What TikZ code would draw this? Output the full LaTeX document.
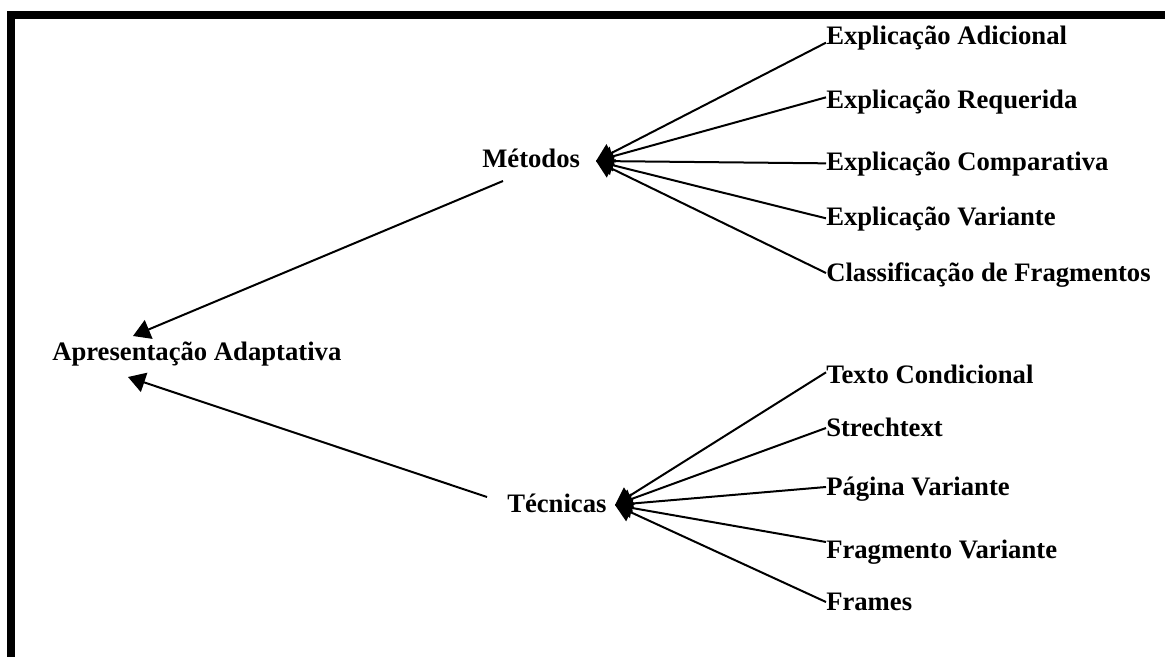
\documentclass[tikz,border=0pt]{standalone}
\usepackage{fontspec}
\setmainfont{Liberation Serif}
\usetikzlibrary{arrows.meta}
\begin{document}
\begin{tikzpicture}[x=0.75pt,y=-0.75pt,
  lbl/.style={inner sep=0pt,anchor=base west,font=\fontsize{20}{24}\selectfont\bfseries},
  conn/.style={line width=1.5pt,-{Triangle[length=12.75pt,width=15pt]}}]
\useasboundingbox (0,0) rectangle (1165,657);
% frame bars on the top and left edges
\fill (7,11) rectangle (1165,19);
\fill (7,11) rectangle (15,657);

% main nodes
\node[lbl] (apres) at (52,360) {Apresentação Adaptativa};
\node[lbl] (metodos) at (482,167) {Métodos};
\node[lbl] (tecnicas) at (507,512) {Técnicas};

% arrow hubs where the leaf lines converge
\coordinate (mhub) at (596,161);
\coordinate (thub) at (615,505);

% methods
\node[lbl] (m1) at (826,44) {Explicação Adicional};
\node[lbl] (m2) at (826,108) {Explicação Requerida};
\node[lbl] (m3) at (826,170) {Explicação Comparativa};
\node[lbl] (m4) at (826,225) {Explicação Variante};
\node[lbl] (m5) at (826,281) {Classificação de Fragmentos};

% techniques
\node[lbl] (t1) at (826,383) {Texto Condicional};
\node[lbl] (t2) at (826,436) {Strechtext};
\node[lbl] (t3) at (826,495) {Página Variante};
\node[lbl] (t4) at (826,558) {Fragmento Variante};
\node[lbl] (t5) at (826,610) {Frames};

% leaves to hubs
\draw[conn] ([yshift=1pt]m1.base west) -- (mhub);
\draw[conn] ([yshift=8pt]m2.base west) -- (mhub);
\draw[conn] ([yshift=5pt]m3.base west) -- (mhub);
\draw[conn] ([yshift=5pt]m4.base west) -- (mhub);
\draw[conn] ([yshift=6pt]m5.base west) -- (mhub);

\draw[conn] ([yshift=8pt]t1.base west) -- (thub);
\draw[conn] ([yshift=6pt]t2.base west) -- (thub);
\draw[conn] ([yshift=6pt]t3.base west) -- (thub);
\draw[conn] ([yshift=12pt]t4.base west) -- (thub);
\draw[conn] ([yshift=6pt]t5.base west) -- (thub);

% branches to the root
\draw[conn] ([xshift=15.75pt,yshift=-10.5pt]metodos.base west) -- ([xshift=60.75pt,yshift=18pt]apres.base west);
\draw[conn] ([xshift=-15pt,yshift=11.25pt]tecnicas.base west) -- ([xshift=57pt,yshift=-12.75pt]apres.base west);
\end{tikzpicture}
\end{document}
